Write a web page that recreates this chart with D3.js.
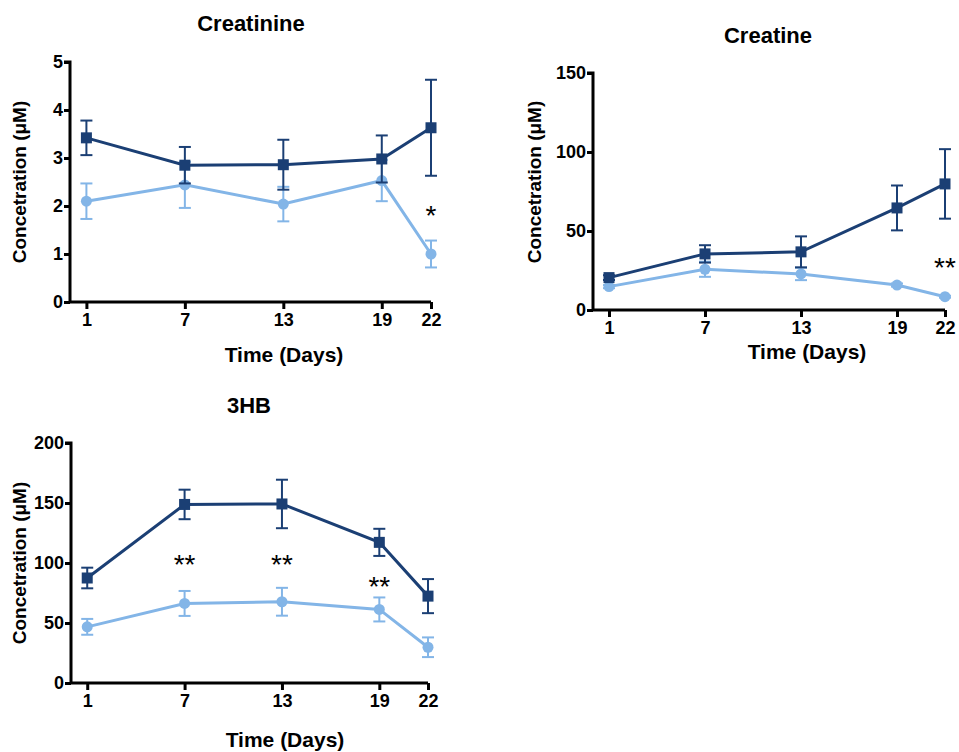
<!DOCTYPE html>
<html>
<head>
<meta charset="utf-8">
<script src="https://cdn.jsdelivr.net/npm/d3@7"></script>
<style>
  body { margin: 0; background: #fff; }
  svg { font-family: "Liberation Sans", Arial, sans-serif; }
  .axis path, .axis line { stroke: #000; stroke-width: 3; }
</style>
</head>
<body>
<div id="chart"></div>
<script>
var days = [1, 7, 13, 19, 22];

// Creatinine
var creatinineDark = [3.42, 2.85, 2.86, 2.98, 3.63];
var creatinineDarkErr = [0.36, 0.38, 0.52, 0.49, 1.0];
var creatinineLight = [2.10, 2.44, 2.04, 2.53, 1.00];
var creatinineLightErr = [0.37, 0.48, 0.36, 0.43, 0.28];
var creatinineStars = [{day: 22, value: 1.92, label: "*"}];

// Creatine
var creatineDark = [20.5, 35.5, 36.8, 64.6, 79.8];
var creatineDarkErr = [1.5, 5.5, 9.8, 14.2, 22.0];
var creatineLight = [14.8, 25.8, 22.8, 15.8, 8.4];
var creatineLightErr = [1.0, 4.8, 3.9, 1.0, 0.6];
var creatineStars = [{day: 22, value: 30.5, label: "**"}];

// 3HB
var hbDark = [87.5, 148.8, 149.2, 117.2, 72.4];
var hbDarkErr = [8.6, 12.3, 20.2, 11.3, 14.2];
var hbLight = [46.8, 66.3, 67.7, 61.3, 29.8];
var hbLightErr = [6.6, 10.4, 11.6, 10.0, 8.2];
var hbStars = [
  {day: 7, value: 103, label: "**"},
  {day: 13, value: 103, label: "**"},
  {day: 19, value: 85, label: "**"}
];

var darkColor = "#1b3f74";
var lightColor = "#83b5e7";

var svg = d3.select("#chart").append("svg")
  .attr("width", 959)
  .attr("height", 752);

function styleTicks(a) {
  a.attr("font-size", null).attr("font-family", null);
  a.selectAll("text")
    .style("font-family", "'Liberation Sans', Arial, sans-serif")
    .style("font-size", "18px")
    .style("font-weight", "bold")
    .style("fill", "#000");
}

function drawPanel(opt) {
  var g = svg.append("g");

  var x = d3.scaleLinear().domain([0, 22]).range([opt.left, opt.right]);
  var y = d3.scaleLinear().domain([0, opt.ymax]).range([opt.bottom, opt.top]);

  // axes
  var yAxis = d3.axisLeft(y).tickValues(opt.yticks).tickSize(6).tickPadding(1).tickFormat(d3.format("d"));
  g.append("g").attr("class", "axis")
    .attr("transform", "translate(" + opt.left + ",0)")
    .call(yAxis)
    .call(styleTicks)
    .call(function(a) { a.select(".domain").attr("d", "M-6," + y(opt.ymax) + "H0V" + opt.bottom); });

  var xAxis = d3.axisBottom(x).tickValues(days).tickSize(7).tickPadding(4);
  g.append("g").attr("class", "axis")
    .attr("transform", "translate(0," + opt.bottom + ")")
    .call(xAxis)
    .call(styleTicks)
    .call(function(a) { a.select(".domain").attr("d", "M" + opt.left + ",0H" + x(22)); });

  // series
  var series = [
    {vals: opt.light, err: opt.lightErr, color: lightColor, shape: "circle"},
    {vals: opt.dark, err: opt.darkErr, color: darkColor, shape: "square"}
  ];

  var line = d3.line()
    .x(function(d) { return x(d.day); })
    .y(function(d) { return y(d.v); });

  series.forEach(function(s) {
    var pts = days.map(function(d, i) { return {day: d, v: s.vals[i], e: s.err[i]}; });
    var sg = g.append("g");

    sg.append("path")
      .datum(pts)
      .attr("fill", "none")
      .attr("stroke", s.color)
      .attr("stroke-width", 3)
      .attr("d", line);

    var eb = sg.selectAll(".err").data(pts).enter().append("g");
    eb.append("line")
      .attr("x1", function(d) { return x(d.day); })
      .attr("x2", function(d) { return x(d.day); })
      .attr("y1", function(d) { return y(d.v + d.e); })
      .attr("y2", function(d) { return y(d.v - d.e); })
      .attr("stroke", s.color).attr("stroke-width", 2);
    [1, -1].forEach(function(sign) {
      eb.append("line")
        .attr("x1", function(d) { return x(d.day) - 6; })
        .attr("x2", function(d) { return x(d.day) + 6; })
        .attr("y1", function(d) { return y(d.v + sign * d.e); })
        .attr("y2", function(d) { return y(d.v + sign * d.e); })
        .attr("stroke", s.color).attr("stroke-width", 2);
    });

    if (s.shape == "circle") {
      sg.selectAll("circle").data(pts).enter().append("circle")
        .attr("cx", function(d) { return x(d.day); })
        .attr("cy", function(d) { return y(d.v); })
        .attr("r", 5.5)
        .attr("fill", s.color);
    } else {
      sg.selectAll("rect").data(pts).enter().append("rect")
        .attr("x", function(d) { return x(d.day) - 5.5; })
        .attr("y", function(d) { return y(d.v) - 5.5; })
        .attr("width", 11).attr("height", 11)
        .attr("fill", s.color);
    }
  });

  // significance markers
  g.selectAll(".star").data(opt.stars).enter().append("text")
    .attr("x", function(d) { return x(d.day); })
    .attr("y", function(d) { return y(d.value) + 15; })
    .attr("text-anchor", "middle")
    .style("font-size", "28px")
    .text(function(d) { return d.label; });

  // titles
  g.append("text")
    .attr("x", opt.titleX).attr("y", opt.titleY)
    .attr("text-anchor", "middle")
    .style("font-size", "22px").style("font-weight", "bold")
    .text(opt.title);

  g.append("text")
    .attr("x", opt.xlabX).attr("y", opt.xlabY)
    .attr("text-anchor", "middle")
    .style("font-size", "21px").style("font-weight", "bold")
    .text("Time (Days)");

  g.append("text")
    .attr("transform", "translate(" + opt.ylabX + "," + opt.ylabY + ") rotate(-90)")
    .attr("text-anchor", "middle")
    .style("font-size", "19px").style("font-weight", "bold")
    .text("Concetration (\u03BCM)");
}

drawPanel({
  title: "Creatinine", titleX: 251, titleY: 31,
  left: 70, right: 431, top: 62, bottom: 302,
  ymax: 5, yticks: [0, 1, 2, 3, 4, 5],
  dark: creatinineDark, darkErr: creatinineDarkErr,
  light: creatinineLight, lightErr: creatinineLightErr,
  stars: creatinineStars,
  xlabX: 284, xlabY: 362, ylabX: 26, ylabY: 182
});

drawPanel({
  title: "Creatine", titleX: 768, titleY: 43,
  left: 593, right: 945, top: 73, bottom: 310,
  ymax: 150, yticks: [0, 50, 100, 150],
  dark: creatineDark, darkErr: creatineDarkErr,
  light: creatineLight, lightErr: creatineLightErr,
  stars: creatineStars,
  xlabX: 807, xlabY: 359, ylabX: 541, ylabY: 182
});

drawPanel({
  title: "3HB", titleX: 249, titleY: 413,
  left: 71, right: 428, top: 443, bottom: 683,
  ymax: 200, yticks: [0, 50, 100, 150, 200],
  dark: hbDark, darkErr: hbDarkErr,
  light: hbLight, lightErr: hbLightErr,
  stars: hbStars,
  xlabX: 285, xlabY: 747, ylabX: 26, ylabY: 563
});
</script>
</body>
</html>
